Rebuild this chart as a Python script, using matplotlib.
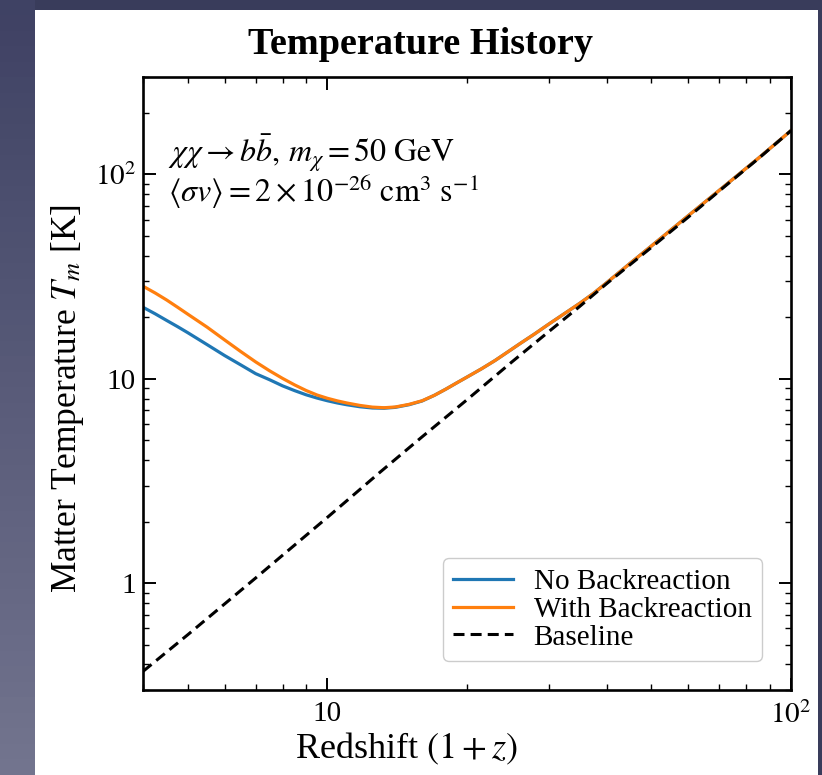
import numpy as np
import matplotlib
matplotlib.use("Agg")
import matplotlib.pyplot as plt
from matplotlib.patches import Rectangle
from matplotlib.ticker import FixedLocator, LogLocator, NullFormatter

# values
z_with = [4.0, 4.25, 4.5, 4.75, 5.0, 5.5, 6.0, 6.5, 7.0, 7.5, 8.0, 8.5, 9.0, 9.5,
          10.0, 10.5, 11.0, 11.75, 12.5, 13.25, 14.0, 15.0, 16.0, 17.0, 18.0, 19.0,
          20.0, 21.5, 23.0, 24.5, 26.0, 28.0, 30.0, 32.5, 35.0, 37.5, 40.0, 45.0,
          50.0, 55.0, 60.0, 70.0, 85.0, 100.0]
T_with = [28.4, 26.3, 24.3, 22.4, 20.7, 17.9, 15.5, 13.6, 12.1, 10.95, 10.05, 9.33,
          8.76, 8.33, 8.03, 7.8, 7.62, 7.41, 7.27, 7.22, 7.28, 7.5, 7.81, 8.3, 8.9,
          9.55, 10.2, 11.2, 12.3, 13.55, 14.85, 16.6, 18.5, 20.9, 23.4, 26.2, 29.5,
          36.8, 44.7, 53.4, 62.8, 83.6, 120.0, 164.0]

z_none = [4.0, 4.25, 4.5, 4.75, 5.0, 5.5, 6.0, 6.5, 7.0, 7.5, 8.0, 8.5, 9.0, 9.5,
          10.0, 10.5, 11.0, 11.75, 12.5, 13.25, 14.0, 15.0, 16.0, 17.0, 18.0, 19.0,
          20.0, 21.5, 23.0, 24.5, 26.0, 28.0, 30.0, 32.5, 35.0, 37.5, 40.0, 45.0,
          50.0, 55.0, 60.0, 70.0, 85.0, 100.0]
T_none = [22.4, 20.8, 19.3, 18.0, 16.8, 14.7, 13.0, 11.7, 10.6, 9.9, 9.24, 8.75,
          8.35, 8.05, 7.81, 7.62, 7.47, 7.3, 7.2, 7.18, 7.25, 7.47, 7.79, 8.3, 8.9,
          9.55, 10.2, 11.2, 12.3, 13.55, 14.85, 16.6, 18.5, 20.9, 23.4, 26.2, 29.5,
          36.8, 44.7, 53.4, 62.8, 83.6, 120.0, 164.0]

z_base = [4.0, 5.0, 7.0, 10.0, 13.0, 16.0, 20.0, 25.0, 30.0, 35.0, 40.0, 50.0,
          60.0, 70.0, 85.0, 100.0]
T_base = [0.37, 0.56, 1.06, 2.1, 3.5, 5.2, 7.9, 12.1, 17.0, 22.6, 29.2, 44.0,
          61.8, 83.0, 119.5, 164.0]

xticks = [10, 100]
xticklabels = ["10", r"$10^2$"]
yticks = [1, 10, 100]
yticklabels = ["1", "10", r"$10^2$"]

plt.rcParams["font.family"] = "serif"
plt.rcParams["font.serif"] = ["Liberation Serif", "DejaVu Serif"]
plt.rcParams["mathtext.fontset"] = "stix"

W, H = 822, 775
fig = plt.figure(figsize=(W / 100, H / 100), dpi=100)
fig.patch.set_facecolor("#393c5b")

# slide background: lighter strip on the left, white panel behind the plot
bg = fig.add_axes([0, 0, 35 / W, 1], zorder=-20)
grad = np.linspace(0, 1, 50).reshape(-1, 1)
bg.imshow(grad, aspect="auto", cmap=matplotlib.colors.LinearSegmentedColormap.from_list(
    "strip", ["#3f4264", "#72748e"]), extent=[0, 1, 0, 1], origin="upper")
bg.axis("off")
fig.add_artist(Rectangle((35 / W, 0), (818 - 35) / W, (H - 10) / H,
                         transform=fig.transFigure, facecolor="white",
                         edgecolor="none", zorder=-10))

ax = fig.add_axes([143 / W, 1 - 690 / H, (791 - 143) / W, (690 - 77) / H])

ax.plot(z_none, T_none, color="#1f77b4", lw=2.3, label="No Backreaction")
ax.plot(z_with, T_with, color="#ff7f0e", lw=2.3, label="With Backreaction")
ax.plot(z_base, T_base, color="black", lw=2.2, ls=(0, (3.6, 2.0)), label="Baseline")

ax.set_xscale("log")
ax.set_yscale("log")
ax.set_xlim(4, 100)
ax.set_ylim(0.3, 300)

ax.xaxis.set_major_locator(FixedLocator(xticks))
ax.set_xticklabels(xticklabels)
ax.yaxis.set_major_locator(FixedLocator(yticks))
ax.set_yticklabels(yticklabels)
for axis in (ax.xaxis, ax.yaxis):
    axis.set_minor_locator(LogLocator(base=10, subs=np.arange(2, 10)))
    axis.set_minor_formatter(NullFormatter())

ax.tick_params(which="both", direction="in", top=True, right=True, labelsize=21)
ax.tick_params(which="major", length=9, width=1.4)
ax.tick_params(which="minor", length=4.5, width=1.0)
ax.tick_params(axis="x", pad=8)
ax.tick_params(axis="y", pad=5)
for s in ax.spines.values():
    s.set_linewidth(1.9)

ax.set_xlabel(r"Redshift $(1+z)$", fontsize=26)
ax.xaxis.set_label_coords(0.407, -0.066)
ax.set_ylabel(r"Matter Temperature $T_m$ [K]", fontsize=25.5)
ax.yaxis.set_label_coords(-0.088, 0.475)

ax.text(0.038, 0.845,
        r"$\chi\chi \rightarrow b\bar{b},\, m_\chi = 50\ \mathrm{GeV}$" + "\n"
        + r"$\langle \sigma v \rangle = 2 \times 10^{-26}\ \mathrm{cm}^3\ \mathrm{s}^{-1}$",
        transform=ax.transAxes, fontsize=23, va="center", ha="left",
        linespacing=0.95)

leg = ax.legend(loc="lower right", fontsize=21, frameon=True, fancybox=True,
                edgecolor="#cccccc", framealpha=1, handlelength=2.05,
                labelspacing=0.05, borderaxespad=1.0, handletextpad=0.7,
                borderpad=0.35)

fig.text(420 / W, 1 - 45 / H, "Temperature History", ha="center", va="center",
         fontsize=27.5, fontweight="bold")

fig.savefig("out.png", dpi=100, facecolor=fig.get_facecolor())
